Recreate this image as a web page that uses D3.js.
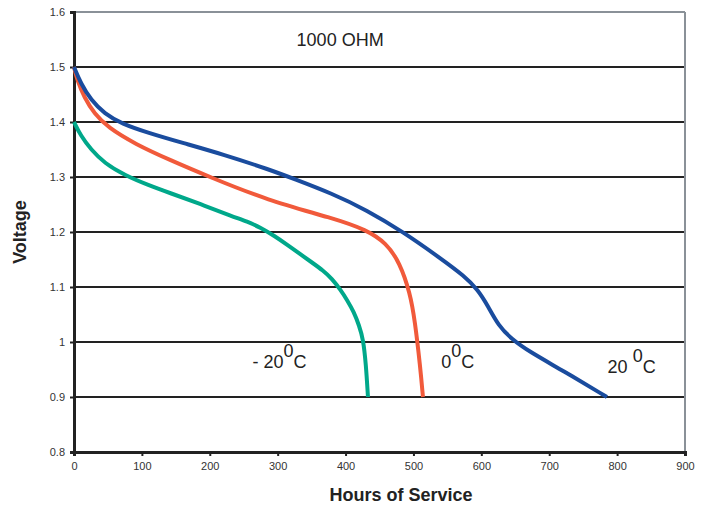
<!DOCTYPE html>
<html>
<head>
<meta charset="utf-8">
<script src="https://cdn.jsdelivr.net/npm/d3@7"></script>
<style>
  body { margin: 0; background: #fff; }
  svg { font-family: "Liberation Sans", Arial, sans-serif; }
  .tick text { fill: #333; font-size: 11px; }
</style>
</head>
<body>
<div id="chart"></div>
<script>
// data: [hours, volts]
const hoursTicks = [0, 100, 200, 300, 400, 500, 600, 700, 800, 900];
const voltTicks = [0.8, 0.9, 1, 1.1, 1.2, 1.3, 1.4, 1.5, 1.6];

const temp20 = [[0, 1.5], [10, 1.47], [25, 1.44], [45, 1.415], [70, 1.397], [110, 1.38],
  [160, 1.362], [220, 1.341], [289, 1.313], [323, 1.297], [380, 1.27], [431, 1.24],
  [485, 1.2], [539, 1.153], [575, 1.12], [595, 1.095], [610, 1.065], [625, 1.03],
  [645, 1.005], [670, 0.983], [720, 0.948], [785, 0.9]];
const temp0 = [[0, 1.5], [5, 1.475], [15, 1.445], [30, 1.415], [50, 1.39], [90, 1.36],
  [141, 1.331], [200, 1.3], [284, 1.258], [382, 1.225], [431, 1.204], [460, 1.18],
  [480, 1.144], [495, 1.089], [502, 1.04], [510, 0.955], [514, 0.9]];
const tempMinus20 = [[0, 1.4], [10, 1.375], [25, 1.35], [45, 1.325], [75, 1.303],
  [110, 1.285], [141, 1.271], [186, 1.251], [234, 1.228], [255, 1.219], [275, 1.208],
  [295, 1.193], [315, 1.176], [333, 1.16], [350, 1.145], [367, 1.13], [380, 1.115],
  [392, 1.096], [403, 1.075], [412, 1.055], [420, 1.03], [426, 1.005], [430, 0.96],
  [433, 0.9]];

const series = [
  { name: "-20", color: "#00a88a", values: tempMinus20 },
  { name: "0", color: "#f15a3b", values: temp0 },
  { name: "20", color: "#1a4c9e", values: temp20 }
];

const width = 707, height = 507;
const margin = { top: 12, right: 22, bottom: 55, left: 74 };
const w = width - margin.left - margin.right;
const h = height - margin.top - margin.bottom;

const svg = d3.select("#chart").append("svg")
  .attr("width", width)
  .attr("height", height);
const g = svg.append("g")
  .attr("transform", "translate(" + margin.left + "," + margin.top + ")");

const x = d3.scaleLinear().domain([0, 900]).range([0, w]);
const y = d3.scaleLinear().domain([0.8, 1.6]).range([h, 0]);

// horizontal gridlines
g.selectAll(".grid")
  .data(voltTicks.filter(v => v > 0.8))
  .enter().append("line")
  .attr("x1", 0).attr("x2", w)
  .attr("y1", d => y(d)).attr("y2", d => y(d))
  .attr("stroke", d => d === 1.6 ? "#8a9198" : "#222")
  .attr("stroke-width", 2.2);

// right border
g.append("line")
  .attr("x1", w).attr("x2", w)
  .attr("y1", 0).attr("y2", h)
  .attr("stroke", "#8a9198").attr("stroke-width", 2);

// axes
const xAxis = g.append("g")
  .attr("transform", "translate(0," + h + ")")
  .call(d3.axisBottom(x).tickValues(hoursTicks).tickSize(4).tickPadding(6).tickFormat(d3.format("d")));
const yAxis = g.append("g")
  .call(d3.axisLeft(y).tickValues(voltTicks).tickSize(4).tickPadding(5).tickFormat(d => d === 1 ? "1" : d3.format(".1f")(d)));
[xAxis, yAxis].forEach(a => {
  a.select(".domain").attr("stroke", "#222").attr("stroke-width", 3);
  a.selectAll(".tick line").attr("stroke", "#222").attr("stroke-width", 2);
});

// curves
const line = d3.line()
  .x(d => x(d[0]))
  .y(d => y(d[1]))
  .curve(d3.curveBasis);

g.selectAll(".curve")
  .data(series)
  .enter().append("path")
  .attr("fill", "none")
  .attr("stroke", d => d.color)
  .attr("stroke-width", 4)
  .attr("d", d => line(d.values));

// annotations
g.append("text")
  .attr("x", x(392)).attr("y", y(1.538))
  .attr("text-anchor", "middle")
  .attr("font-size", 18).attr("fill", "#222")
  .text("1000 OHM");

const tempLabels = [
  { pre: "- 20", hx: 263, v: 0.953 },
  { pre: "0", hx: 541, v: 0.953 },
  { pre: "20 ", hx: 786, v: 0.944 }
];
tempLabels.forEach(l => {
  const t = g.append("text")
    .attr("x", x(l.hx)).attr("y", y(l.v))
    .attr("font-size", 18).attr("fill", "#222");
  t.append("tspan").text(l.pre);
  t.append("tspan").attr("dy", -11).text("0");
  t.append("tspan").attr("dy", 11).text("C");
});

// axis titles
svg.append("text")
  .attr("x", 401).attr("y", 501)
  .attr("text-anchor", "middle")
  .attr("font-size", 18).attr("font-weight", "bold").attr("fill", "#222")
  .text("Hours of Service");

svg.append("text")
  .attr("transform", "translate(26," + (margin.top + h / 2) + ") rotate(-90)")
  .attr("text-anchor", "middle")
  .attr("font-size", 18).attr("font-weight", "bold").attr("fill", "#222")
  .text("Voltage");
</script>
</body>
</html>
